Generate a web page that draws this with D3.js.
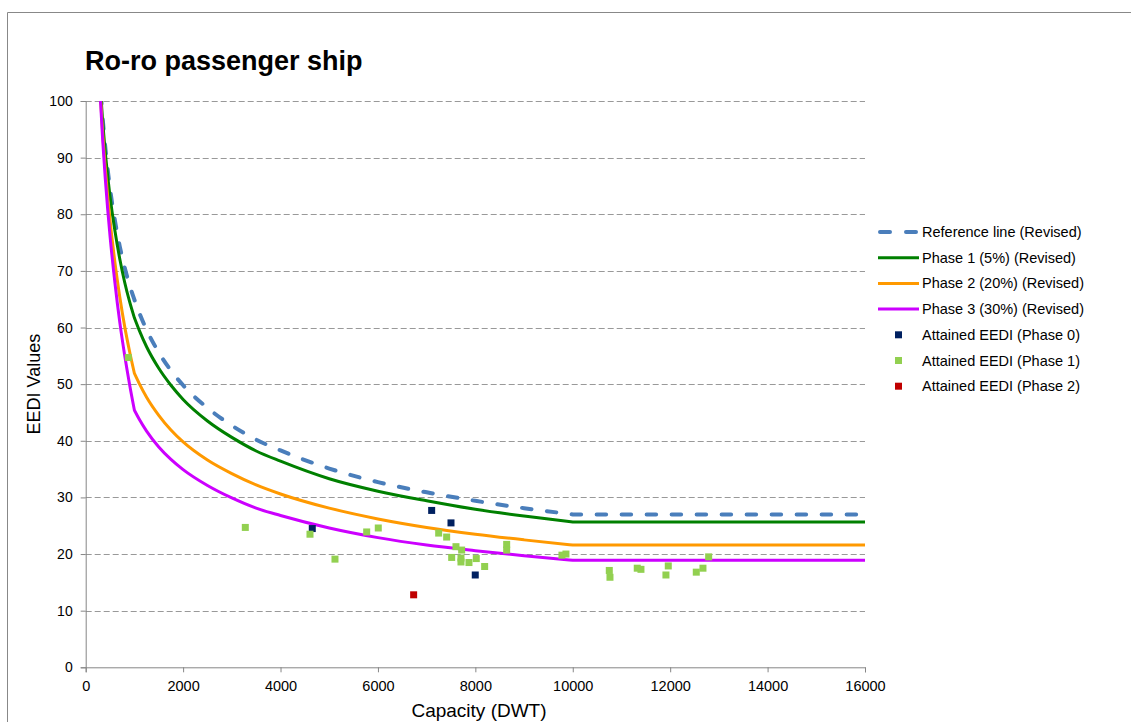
<!DOCTYPE html>
<html>
<head>
<meta charset="utf-8">
<script src="https://cdn.jsdelivr.net/npm/d3@7"></script>
<style>
  html, body { margin: 0; padding: 0; background: #fff; }
  svg { display: block; font-family: "Liberation Sans", Arial, sans-serif; }
</style>
</head>
<body>
<svg id="chart" width="1131" height="722"></svg>
<script>
// ---------- Data ----------
const capacity      = [250,   300,   350,  400,  450,  500,  600,  700,  800,  900,  1000, 1100, 1250, 1500, 1750, 2000, 2500, 3000, 3500, 4000, 5000, 6000, 7000, 8000, 9000, 10000, 16000];
const referenceLine = [110.0, 102.7, 96.8, 92.0, 88.0, 84.5, 78.9, 74.3, 70.6, 67.5, 64.9, 62.6, 59.6, 55.6, 52.4, 49.8, 45.8, 42.7, 40.2, 38.3, 35.1, 32.7, 30.9, 29.4, 28.1, 27.0,  27.0];
const phase1Line    = [110.0, 102.4, 96.2, 91.1, 86.8, 83.1, 77.1, 72.1, 68.0, 64.6, 61.7, 59.5, 56.6, 52.8, 49.8, 47.3, 43.5, 40.6, 38.2, 36.4, 33.3, 31.1, 29.4, 27.9, 26.7, 25.65, 25.65];
const phase2Line    = [110.0, 101.3, 94.2, 88.3, 83.3, 78.9, 71.5, 65.4, 60.2, 55.8, 51.9, 50.1, 47.7, 44.5, 41.9, 39.8, 36.6, 34.2, 32.2, 30.6, 28.1, 26.2, 24.7, 23.5, 22.5, 21.6,  21.6];
const phase3Line    = [110.0, 100.6, 92.9, 86.5, 81.0, 76.1, 67.9, 60.9, 55.1, 50.0, 45.4, 43.8, 41.7, 38.9, 36.7, 34.9, 32.1, 29.9, 28.1, 26.8, 24.6, 22.9, 21.6, 20.6, 19.7, 18.9,  18.9];
// capacities where the curves change shape (segments are smoothed separately)
const breakCapacities = [1000, 10000];

const attained0X = [4652, 7103, 7500, 7998];
const attained0Y = [24.5, 27.7, 25.5, 16.3];
const attained1X = [875, 3277, 4605, 5118, 5769, 6007, 7247, 7411, 7602, 7719, 7514, 7705, 7705, 7869, 8019, 8191, 8643, 8643, 9778, 9860, 10750, 10764, 11324, 11400, 11961, 11913, 12536, 12673, 12790];
const attained1Y = [54.7, 24.7, 23.5, 19.1, 23.9, 24.6, 23.7, 23.0, 21.3, 20.7, 19.4, 19.3, 18.6, 18.5, 19.2, 17.8, 21.7, 20.7, 19.8, 20.0, 17.1, 15.9, 17.5, 17.3, 17.9, 16.3, 16.8, 17.5, 19.5];
const attained2X = [6733];
const attained2Y = [12.8];

const xTicks = [0, 2000, 4000, 6000, 8000, 10000, 12000, 14000, 16000];
const yTicks = [0, 10, 20, 30, 40, 50, 60, 70, 80, 90, 100];

const lineSeries = [
  { name: "Reference line (Revised)", values: referenceLine, color: "#4a7ebb", width: 4, dash: "9.5,15.5" },
  { name: "Phase 1 (5%) (Revised)", values: phase1Line, color: "#008000", width: 3, dash: null },
  { name: "Phase 2 (20%) (Revised)", values: phase2Line, color: "#ff9900", width: 3, dash: null },
  { name: "Phase 3 (30%) (Revised)", values: phase3Line, color: "#cc00ff", width: 3, dash: null }
];
const pointSeries = [
  { name: "Attained EEDI (Phase 0)", xs: attained0X, ys: attained0Y, color: "#002060" },
  { name: "Attained EEDI (Phase 1)", xs: attained1X, ys: attained1Y, color: "#92d050" },
  { name: "Attained EEDI (Phase 2)", xs: attained2X, ys: attained2Y, color: "#c00000" }
];

// ---------- Layout ----------
const svg = d3.select("#chart");
const plot = { left: 85.7, right: 865, top: 101, bottom: 667.3 };

const x = d3.scaleLinear().domain([0, 16000]).range([plot.left, plot.right]);
const y = d3.scaleLinear().domain([0, 100]).range([plot.bottom, plot.top]);

// outer border
svg.append("path")
  .attr("d", `M7.5,760 V12.5 H1140`)
  .attr("fill", "none").attr("stroke", "#888").attr("stroke-width", 1);

// title
svg.append("text").attr("x", 85).attr("y", 70)
  .attr("font-size", 27).attr("font-weight", "bold").attr("fill", "#000")
  .text("Ro-ro passenger ship");

// gridlines
svg.append("g").selectAll("line").data(yTicks.filter(d => d > 0)).join("line")
  .attr("x1", plot.left).attr("x2", plot.right)
  .attr("y1", d => Math.round(y(d)) + 0.5).attr("y2", d => Math.round(y(d)) + 0.5)
  .attr("stroke", "#999").attr("stroke-width", 1).attr("stroke-dasharray", "6,3");

// axes
const yAxis = d3.axisLeft(y).tickValues(yTicks).tickSize(5).tickPadding(8).tickFormat(d3.format("d"));
const gy = svg.append("g").attr("transform", `translate(${plot.left},0)`).call(yAxis);
const xAxis = d3.axisBottom(x).tickValues(xTicks).tickSize(5).tickPadding(8).tickFormat(d3.format("d"));
const gx = svg.append("g").attr("transform", `translate(0,${plot.bottom})`).call(xAxis);
[gx, gy].forEach(g => {
  g.select(".domain").attr("stroke", "#868686");
  g.selectAll(".tick line").attr("stroke", "#868686");
  g.selectAll(".tick text").attr("fill", "#000")
    .attr("font-family", "'Liberation Sans', Arial, sans-serif");
});
gx.selectAll(".tick text").attr("font-size", 14.5);
gy.selectAll(".tick text").attr("font-size", 14);

// axis titles
svg.append("text").attr("x", 479).attr("y", 717)
  .attr("text-anchor", "middle").attr("font-size", 19).attr("fill", "#000")
  .text("Capacity (DWT)");
svg.append("text")
  .attr("transform", `translate(40,${(plot.top + plot.bottom) / 2}) rotate(-90)`)
  .attr("text-anchor", "middle").attr("font-size", 18).attr("fill", "#000")
  .text("EEDI Values");

// clip
svg.append("defs").append("clipPath").attr("id", "plotclip")
  .append("rect").attr("x", plot.left).attr("y", plot.top)
  .attr("width", plot.right - plot.left).attr("height", plot.bottom - plot.top);

const plotG = svg.append("g").attr("clip-path", "url(#plotclip)");

const line = d3.line().x(d => x(d[0])).y(d => y(d[1])).curve(d3.curveMonotoneX);

// build one continuous path, smoothing each segment between break points separately
function seriesPath(values) {
  const pts = capacity.map((c, i) => [c, values[i]]);
  const cuts = [0, ...breakCapacities.map(b => capacity.indexOf(b)), pts.length - 1];
  let d = "";
  for (let k = 0; k < cuts.length - 1; k++) {
    const seg = pts.slice(cuts[k], cuts[k + 1] + 1);
    let sd = line(seg);
    if (k > 0) sd = sd.replace(/^M[^LC]*/, "");
    d += sd;
  }
  return d;
}

lineSeries.forEach(s => {
  plotG.append("path")
    .attr("d", seriesPath(s.values))
    .attr("fill", "none")
    .attr("stroke", s.color)
    .attr("stroke-width", s.width)
    .attr("stroke-linecap", s.dash ? "round" : "butt")
    .attr("stroke-linejoin", "round")
    .attr("stroke-dasharray", s.dash);
});

// points
const ms = 7;
pointSeries.forEach(s => {
  plotG.append("g").selectAll("rect").data(s.xs.map((v, i) => [v, s.ys[i]])).join("rect")
    .attr("x", d => x(d[0]) - ms / 2).attr("y", d => y(d[1]) - ms / 2)
    .attr("width", ms).attr("height", ms).attr("fill", s.color);
});

// legend
const lg = svg.append("g");
const legTextX = 922, legY0 = 232, legStep = 25.7;
lineSeries.forEach((s, i) => {
  const yy = legY0 + i * legStep;
  lg.append("line")
    .attr("x1", s.dash ? 880 : 878).attr("x2", s.dash ? 917 : 919)
    .attr("y1", yy).attr("y2", yy)
    .attr("stroke", s.color).attr("stroke-width", s.width)
    .attr("stroke-linecap", s.dash ? "round" : "butt")
    .attr("stroke-dasharray", s.dash ? "10,16" : null);
  lg.append("text").attr("x", legTextX).attr("y", yy + 5).attr("font-size", 14.5).attr("fill", "#000").text(s.name);
});
pointSeries.forEach((s, j) => {
  const yy = legY0 + (lineSeries.length + j) * legStep;
  lg.append("rect").attr("x", 898.5 - ms / 2).attr("y", yy - ms / 2).attr("width", ms).attr("height", ms).attr("fill", s.color);
  lg.append("text").attr("x", legTextX).attr("y", yy + 5).attr("font-size", 14.5).attr("fill", "#000").text(s.name);
});
</script>
</body>
</html>
